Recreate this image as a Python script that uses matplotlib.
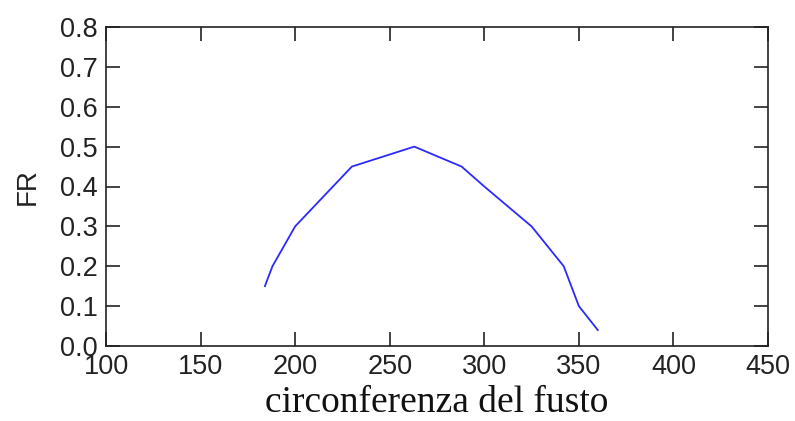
import matplotlib
matplotlib.use("Agg")
import matplotlib.pyplot as plt

circ = [184, 188, 200, 230, 263, 288, 300, 325, 342, 350, 360]
fr = [0.15, 0.20, 0.30, 0.45, 0.50, 0.45, 0.40, 0.30, 0.20, 0.10, 0.04]
xticks = [100, 150, 200, 250, 300, 350, 400, 450]
yticks = [0.0, 0.1, 0.2, 0.3, 0.4, 0.5, 0.6, 0.7, 0.8]

fig = plt.figure(figsize=(7.95, 4.21), dpi=100)
ax = fig.add_axes([106/795, 1-346/421, (768-106)/795, (346-27)/421])
ax.plot(circ, fr, color="#2a2aff", lw=1.3)
ax.set_xlim(100, 450)
ax.set_ylim(0, 0.8)
ax.set_xticks(xticks)
ax.set_yticks(yticks)
ax.set_xticklabels([str(v) for v in xticks], family="Liberation Sans", fontsize=19.5, color="#222222")
ax.set_yticklabels([f"{v:.1f}" for v in yticks], family="Liberation Sans", fontsize=19.5, color="#222222")
ax.tick_params(axis="x", direction="in", top=True, length=10, width=1.2, color="#222222", pad=6)
ax.tick_params(axis="y", direction="in", right=True, length=10, width=1.2, color="#222222", pad=6)
for s in ax.spines.values():
    s.set_linewidth(1.2)
    s.set_color("#222222")
ax.set_xlabel("circonferenza del fusto", family="Liberation Serif", fontsize=27, labelpad=4, color="#111111")
ax.set_ylabel("FR", family="Liberation Sans", fontsize=20, labelpad=14, color="#222222")
fig.savefig("out.png", dpi=100)
